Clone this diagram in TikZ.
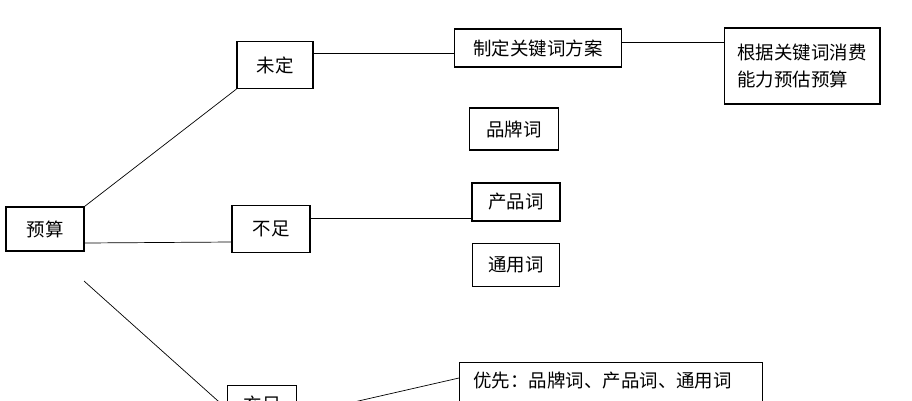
\documentclass[tikz,border=0pt]{standalone}
\usepackage{fontspec}
\newfontfamily\cjk{Noto Sans CJK SC}
\usetikzlibrary{positioning}
\begin{document}
\begin{tikzpicture}[x=0.02cm,y=-0.02cm]
	\tikzstyle {word box} = [draw, line width=0.6pt, font=\cjk\fontsize{10.5}{15}\selectfont, inner sep=0pt]
	\useasboundingbox (0,0) rectangle (912,400);

	\node[word box, minimum width=1.56cm, minimum height=0.88cm] (budget) at (45,229) {预算};
	\node[word box, minimum width=1.52cm, minimum height=0.94cm] (open) at (275,65) {未定};
	\node[word box, minimum width=1.56cm, minimum height=0.94cm] (short) at (271,229) {不足};
	\node[word box, minimum width=1.38cm, minimum height=0.94cm] (enough) at (262,409) {\raisebox{0.2cm}{充足}};

	\node[word box, minimum width=3.34cm, minimum height=0.76cm] (plan) at (538,48) {制定关键词方案};
	\node[word box, minimum width=3.12cm, minimum height=1.52cm, align=left] (estimate) at (802,66) {根据关键词消费\\能力预估预算};
	\node[word box, minimum width=1.78cm, minimum height=0.84cm] (brand) at (514,129) {品牌词};
	\node[word box, minimum width=1.76cm, minimum height=0.76cm] (product) at (516,202) {产品词};
	\node[word box, minimum width=1.74cm, minimum height=0.86cm] (general) at (516,265) {通用词};
	\node[word box, anchor=north west, inner xsep=0.28cm, inner ysep=0.2cm, text height=0.3cm, text depth=0.8cm, text width=5.5cm, align=left] (first) at (459,362) {优先：品牌词、产品词、通用词};

	\coordinate (fork) at (84,281);

	\draw (budget.north east) -- (open.south west);
	\draw (budget.east |- 0,243) -- (short.west |- 0,242);
	\draw (fork) -- (enough.west);
	\draw (open.east |- 0,53) -- (plan.west |- 0,53);
	\draw (plan.east |- 0,42) -- (estimate.west |- 0,42);
	\draw (short.east |- 0,218) -- (product.west |- 0,218);
	\draw (enough.east |- 0,415) -- (first.west |- 0,378);
\end{tikzpicture}
\end{document}
